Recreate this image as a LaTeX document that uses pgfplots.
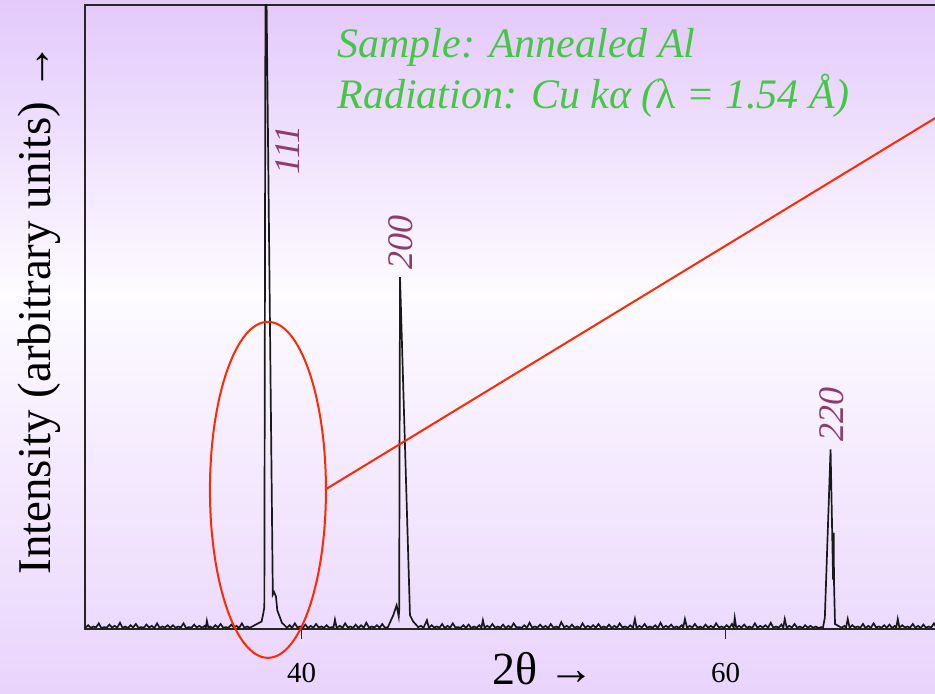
\documentclass[border=0pt]{standalone}
\usepackage{fontspec}
\setmainfont{Liberation Serif}
\usepackage{pgfplots}
\pgfplotsset{compat=1.18}
\definecolor{lavtop}{RGB}{227,201,251}
\definecolor{lavmid}{RGB}{253,251,255}
\definecolor{lavbot}{RGB}{233,212,252}
\definecolor{peaklbl}{RGB}{140,60,110}
\definecolor{notegreen}{RGB}{66,200,66}
\definecolor{ringred}{RGB}{255,40,0}

\begin{document}
\begin{tikzpicture}
% page = 935 x 694 px, 1 px = 0.5pt
\useasboundingbox (0,0) rectangle (467.5pt,347pt);
\clip (0,0) rectangle (467.5pt,347pt);
\shade[top color=lavtop,bottom color=lavmid] (0,200pt) rectangle (467.5pt,347pt);
\shade[top color=lavmid,bottom color=lavbot] (0,0) rectangle (467.5pt,200pt);

\begin{axis}[
  at={(42.5pt,32.5pt)}, anchor=south west,
  scale only axis, width=447.5pt, height=312pt,
  xmin=29.78, xmax=72, ymin=0, ymax=100,
  axis line style={draw=black!85, line width=0.9pt},
  xtick={40,60}, ytick=\empty, xtick pos=bottom,
  tick align=outside, major tick length=5pt,
  tick style={black!85, line width=0.8pt},
  xticklabel style={font=\fontsize{14.5}{16}\selectfont, anchor=base, yshift=-22pt},
  /pgf/number format/assume math mode=true,
  clip mode=individual,
]
\addplot[black!90, line width=0.85pt, mark=none] coordinates {
(29.80,0.2)(29.93,0.6)(30.05,0.2)(30.18,0.4)(30.30,0.25)(30.43,0.9)(30.55,0.15)(30.68,0.3)
(30.80,0.2)(30.93,0.7)(31.05,0.25)(31.18,0.5)(31.30,0.2)(31.43,1.0)(31.55,0.2)(31.68,0.4)
(31.80,0.15)(31.93,0.6)(32.05,0.25)(32.18,0.8)(32.30,0.2)(32.43,0.3)(32.55,0.2)(32.68,0.7)
(32.80,0.25)(32.93,0.5)(33.05,0.15)(33.18,0.9)(33.30,0.2)(33.43,0.4)(33.55,0.25)(33.68,0.6)
(33.80,0.2)(33.93,0.6)(34.05,0.2)(34.18,0.4)(34.30,0.25)(34.43,0.9)(34.55,0.15)(34.68,0.3)
(34.80,0.2)(34.93,0.7)(35.05,0.25)(35.18,0.5)(35.30,0.2)(35.43,0.5)(35.48,0.2)(35.53,1.3)
(35.60,0.2)(35.68,0.4)(35.80,0.15)(35.93,0.6)(36.05,0.25)(36.18,0.8)(36.30,0.2)(36.43,0.3)
(36.55,0.2)(36.68,0.7)(36.80,0.25)(36.93,0.5)(37.05,0.15)(37.18,0.9)(37.30,0.2)(37.43,0.4)
(37.56,0.2)(38.11,1.2)(38.19,2.5)(38.24,3.5)(38.30,115)(38.64,5.5)(38.70,5.9)(38.79,5.2)
(38.85,3.0)(39.07,1.0)(39.31,0.2)
(39.43,0.6)(39.55,0.2)(39.68,0.9)(39.80,0.25)(39.93,0.4)(40.05,0.2)(40.18,0.7)(40.30,0.15)
(40.43,0.5)(40.55,0.2)(40.68,0.8)(40.80,0.25)(40.93,0.4)(41.05,0.2)(41.18,0.6)(41.30,0.2)
(41.43,0.3)(41.50,0.2)(41.57,1.5)(41.65,0.2)(41.80,0.5)(41.93,0.2)(42.05,0.9)(42.18,0.25)
(42.30,0.4)(42.43,0.2)(42.55,0.7)(42.68,0.15)(42.80,0.6)(42.93,0.2)(43.05,1.0)(43.18,0.2)
(43.30,0.4)(43.43,0.25)(43.55,0.6)(43.68,0.2)(43.80,0.8)(43.93,0.2)
(44.07,0.3)(44.32,2.2)(44.48,3.8)(44.58,2.0)(44.60,3.0)(44.64,56.4)(45.11,2.2)(45.26,1.2)
(45.50,0.3)
(45.63,0.5)(45.75,0.2)(45.91,1.4)(46.00,0.2)(46.13,0.6)(46.25,0.25)(46.38,0.4)(46.50,0.2)
(46.63,0.8)(46.75,0.15)(46.88,0.5)(47.00,0.2)(47.13,0.9)(47.25,0.25)(47.38,0.3)(47.50,0.2)
(47.63,0.6)(47.75,0.2)(47.88,0.7)(48.00,0.15)(48.13,0.4)(48.25,0.2)(48.38,0.6)(48.48,0.2)
(48.55,1.4)(48.63,0.2)(48.75,0.5)(48.88,0.25)(49.00,0.8)(49.13,0.2)(49.25,0.4)(49.38,0.2)
(49.50,0.7)(49.63,0.15)(49.75,0.5)(49.88,0.2)(50.00,0.9)(50.13,0.25)(50.25,0.3)(50.38,0.2)
(50.50,0.6)(50.63,0.2)(50.75,1.0)(50.88,0.2)(51.00,0.4)(51.13,0.25)(51.25,0.7)(51.38,0.2)
(51.50,0.5)(51.63,0.15)(51.75,0.8)(51.88,0.2)(52.00,0.4)(52.13,0.2)(52.25,1.1)(52.38,0.25)
(52.50,0.5)(52.63,0.2)(52.75,0.7)(52.88,0.2)(53.00,0.4)(53.13,0.15)(53.25,0.9)(53.38,0.2)
(53.50,0.5)(53.63,0.25)(53.75,0.6)(53.88,0.2)(54.00,0.8)(54.13,0.2)(54.25,0.4)(54.38,0.2)
(54.50,0.7)(54.63,0.15)(54.75,0.5)(54.88,0.2)(55.00,0.9)(55.13,0.25)(55.25,0.4)(55.38,0.2)
(55.50,0.6)(55.63,0.2)(55.72,1.6)(55.80,0.2)(55.93,0.5)(56.05,0.25)(56.18,0.8)(56.30,0.2)
(56.43,0.4)(56.55,0.2)(56.68,0.6)(56.80,0.15)(56.93,1.0)(57.05,0.2)(57.18,0.5)(57.30,0.25)
(57.43,0.7)(57.55,0.2)(57.68,0.4)(57.80,0.2)(57.93,0.6)(58.00,0.2)(58.08,1.6)(58.18,0.2)
(58.30,0.5)(58.43,0.25)(58.55,0.8)(58.68,0.2)(58.80,0.4)(58.93,0.15)(59.05,0.7)(59.18,0.2)
(59.30,0.5)(59.43,0.2)(59.55,0.9)(59.68,0.25)(59.80,0.4)(59.93,0.2)(60.05,0.6)(60.18,0.2)
(60.30,0.8)(60.38,0.2)(60.43,1.8)(60.50,0.2)(60.63,0.5)(60.75,0.25)(60.88,0.7)(61.00,0.2)
(61.13,0.4)(61.25,0.15)(61.38,0.9)(61.50,0.2)(61.63,0.5)(61.75,0.25)(61.88,0.6)(62.00,0.2)
(62.13,1.0)(62.25,0.2)(62.38,0.4)(62.50,0.2)(62.63,0.7)(62.72,0.2)(62.79,1.6)(62.88,0.2)
(63.00,0.5)(63.13,0.25)(63.25,0.8)(63.38,0.2)(63.50,0.4)(63.63,0.15)(63.75,0.6)(63.88,0.2)
(64.00,0.5)(64.13,0.2)(64.25,0.4)(64.38,0.15)(64.50,0.3)
(64.59,0.2)(64.68,1.8)(64.95,28.8)(65.07,7.9)(65.10,15.4)(65.11,7.9)(65.16,0.8)(65.47,0.2)
(65.60,0.5)(65.68,0.2)(65.76,1.6)(65.85,0.2)(65.98,0.6)(66.10,0.25)(66.23,0.4)(66.35,0.2)
(66.48,0.8)(66.60,0.15)(66.73,0.5)(66.85,0.2)(66.98,0.9)(67.10,0.25)(67.23,0.4)(67.35,0.2)
(67.48,0.6)(67.60,0.2)(67.73,0.7)(67.85,0.15)(67.98,0.5)(68.05,0.2)(68.12,1.6)(68.20,0.2)
(68.33,0.6)(68.45,0.25)(68.58,0.4)(68.70,0.2)(68.83,0.8)(68.95,0.2)(69.08,0.5)(69.20,0.15)
(69.33,0.7)(69.45,0.2)(69.58,0.4)(69.70,0.25)(69.83,0.9)(69.95,0.2)(70.08,0.5)(70.20,0.2)
(70.33,0.6)(70.45,0.2)
};

\node[rotate=90, inner sep=0, font=\itshape\fontsize{18}{20}\selectfont, text=peaklbl]
  at (axis cs:39.35,76.8) {111};
\node[rotate=90, inner sep=0, font=\itshape\fontsize{18}{20}\selectfont, text=peaklbl]
  at (axis cs:44.66,62.0) {200};
\node[rotate=90, inner sep=0, font=\itshape\fontsize{18}{20}\selectfont, text=peaklbl]
  at (axis cs:65.01,34.3) {220};

\draw[ringred, line width=1pt] (axis cs:38.41,22.3) ellipse [x radius=29pt, y radius=84pt];
\draw[ringred, line width=1pt] (axis cs:41.14,22.4) -- (axis cs:72.94,88.2);
\end{axis}

\node[anchor=base west, inner sep=0, font=\itshape\fontsize{21}{23}\selectfont, text=notegreen]
  at (168.5pt,318pt) {Sample: Annealed Al};
\node[anchor=base west, inner sep=0, font=\itshape\fontsize{21}{23}\selectfont, text=notegreen]
  at (168.5pt,292.5pt) {Radiation: Cu kα ({\upshape λ} = 1.54 Å)};
\node[rotate=90, anchor=base west, inner sep=0, font=\fontsize{23.5}{26}\selectfont]
  at (25pt,59.5pt) {Intensity (arbitrary units) →};
\node[anchor=base west, inner sep=0, font=\fontsize{23}{25}\selectfont]
  at (246pt,4.5pt) {2θ →};
\end{tikzpicture}
\end{document}
